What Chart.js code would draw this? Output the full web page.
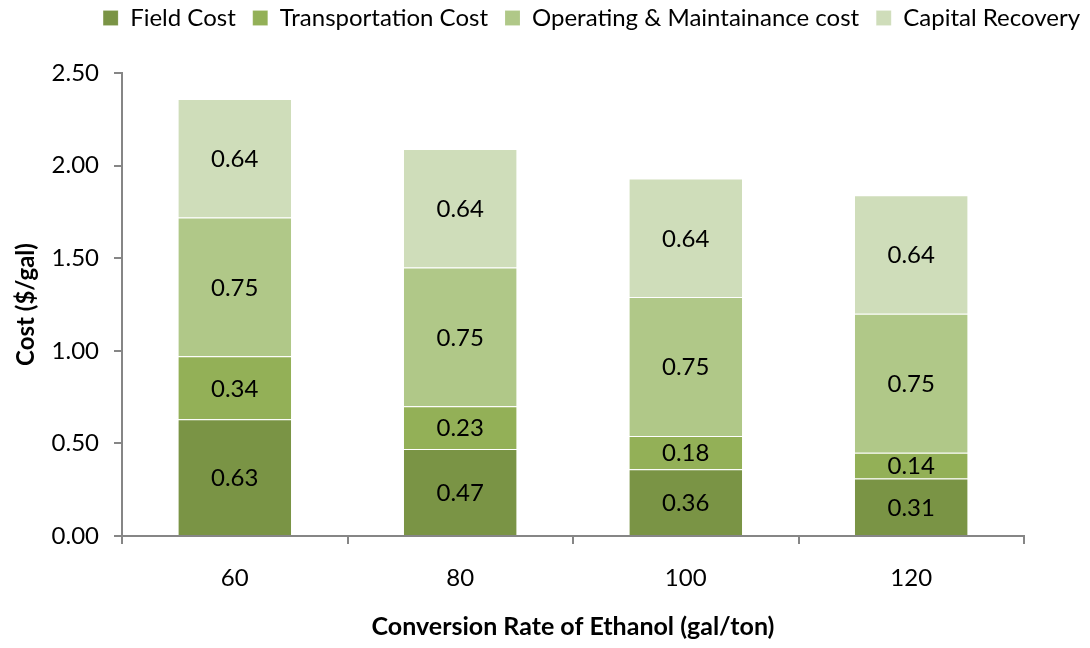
<!DOCTYPE html>
<html>
<head>
<meta charset="utf-8">
<script src="https://cdn.jsdelivr.net/npm/chart.js@4"></script>
<style>
  html, body { margin: 0; padding: 0; background: #fff; }
  #wrap { width: 1090px; height: 648px; }
</style>
</head>
<body>
<div id="wrap"><canvas id="costChart"></canvas></div>
<script>
// Cost breakdown per conversion rate
const rates = ['60', '80', '100', '120'];
const fieldCost = [0.63, 0.47, 0.36, 0.31];
const transportCost = [0.34, 0.23, 0.18, 0.14];
const omCost = [0.75, 0.75, 0.75, 0.75];
const capitalRecovery = [0.64, 0.64, 0.64, 0.64];
const yTicks = [0, 0.5, 1.0, 1.5, 2.0, 2.5];

const FONT = 'Lato, "Open Sans", sans-serif';

// write each value in the middle of its segment
const segmentLabels = {
  id: 'segmentLabels',
  afterDatasetsDraw(chart) {
    const ctx = chart.ctx;
    ctx.save();
    ctx.font = '24px ' + FONT;
    ctx.fillStyle = '#000';
    ctx.textAlign = 'center';
    ctx.textBaseline = 'middle';
    chart.data.datasets.forEach((ds, i) => {
      chart.getDatasetMeta(i).data.forEach((bar, j) => {
        const p = bar.getProps(['x', 'y', 'base'], true);
        ctx.fillText(ds.data[j].toFixed(2), p.x, (p.y + p.base) / 2 + 1);
      });
    });
    ctx.restore();
  }
};

// legend sits in the top strip and runs out to the right edge
const legendStrip = {
  id: 'legendStrip',
  afterLayout(chart) {
    const lg = chart.legend;
    const h = lg.bottom - lg.top;
    lg.top = -11;
    lg.bottom = h - 11;
    lg.right = chart.width + 7;
  }
};

new Chart(document.getElementById('costChart'), {
  type: 'bar',
  data: {
    labels: rates,
    datasets: [
      { label: 'Field Cost', data: fieldCost, backgroundColor: '#7a9445' },
      { label: 'Transportation Cost', data: transportCost, backgroundColor: '#93b057' },
      { label: 'Operating & Maintainance cost', data: omCost, backgroundColor: '#b0c888' },
      { label: 'Capital Recovery', data: capitalRecovery, backgroundColor: '#cfddba' }
    ]
  },
  options: {
    responsive: true,
    maintainAspectRatio: false,
    animation: false,
    layout: { padding: { left: 6, right: 66, top: 22, bottom: 4 } },
    datasets: {
      bar: {
        categoryPercentage: 1,
        barPercentage: 0.5,
        borderWidth: { top: 1, bottom: 0, left: 0, right: 0 },
        borderColor: 'rgba(255,255,255,0.6)',
        borderSkipped: false
      }
    },
    plugins: {
      legend: {
        position: 'top',
        align: 'end',
        labels: {
          font: { family: FONT, size: 24 },
          color: '#000',
          boxWidth: 15,
          boxHeight: 15,
          padding: 17
        }
      },
      tooltip: { enabled: false }
    },
    scales: {
      x: {
        stacked: true,
        afterFit: axis => { axis.height = 108; },
        grid: {
          offset: true,
          drawOnChartArea: false,
          tickLength: 8,
          color: '#868686',
          lineWidth: 2
        },
        border: { color: '#868686', width: 2 },
        ticks: { font: { family: FONT, size: 24 }, color: '#000', padding: 20 },
        title: {
          display: true,
          text: 'Conversion Rate of Ethanol (gal/ton)',
          font: { family: FONT, size: 25, weight: 'bold' },
          color: '#000',
          padding: { top: 0, bottom: 2 }
        }
      },
      y: {
        stacked: true,
        min: 0,
        max: 2.5,
        afterFit: axis => { axis.width = 116; },
        afterBuildTicks: axis => { axis.ticks = yTicks.map(v => ({ value: v })); },
        grid: {
          drawOnChartArea: false,
          tickLength: 8,
          color: '#868686',
          lineWidth: 2
        },
        border: { color: '#868686', width: 2 },
        ticks: {
          font: { family: FONT, size: 24 },
          color: '#000',
          padding: 15,
          callback: v => v.toFixed(2)
        },
        title: {
          display: true,
          text: 'Cost ($/gal)',
          font: { family: FONT, size: 24, weight: 'bold' },
          color: '#000',
          padding: { top: 6, bottom: 0 }
        }
      }
    }
  },
  plugins: [segmentLabels, legendStrip]
});
</script>
</body>
</html>
